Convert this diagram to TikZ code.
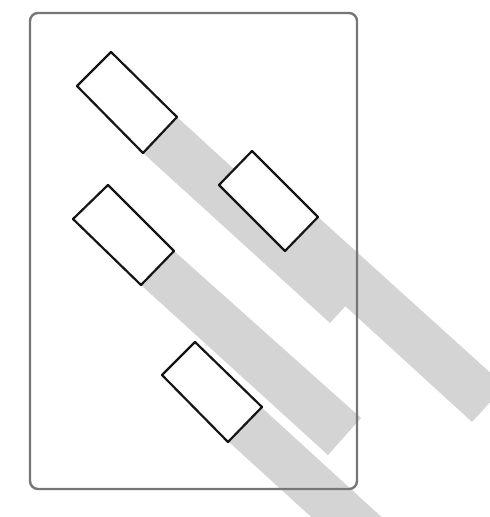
\documentclass[tikz,border=0pt]{standalone}
\usepackage{tikz}
\definecolor{bandgray}{HTML}{D4D4D4}
\definecolor{framegray}{HTML}{767676}
\definecolor{boxink}{HTML}{151515}

\begin{document}
\begin{tikzpicture}[
  x=1pt,y=-1pt,
  frame/.style={draw=framegray,line width=2.4pt,rounded corners=8pt},
  tagbox/.style={draw=boxink,line width=2.2pt,fill=white,line join=round},
  band/.style={fill=bandgray},
  bandedge/.style={fill=bandgray,draw=white,line width=1pt}
]
  \useasboundingbox (0,0) rectangle (490,517);

  % box corners: top, left, bottom, right
  \coordinate (t1) at (111,52);  \coordinate (l1) at (77,86);
  \coordinate (b1) at (143,153); \coordinate (r1) at (177,117);
  \coordinate (t2) at (252,151); \coordinate (l2) at (219,185);
  \coordinate (b2) at (285,251); \coordinate (r2) at (318,217);
  \coordinate (t3) at (108,185); \coordinate (l3) at (73,219);
  \coordinate (b3) at (141,285); \coordinate (r3) at (174,251);
  \coordinate (t4) at (195,342); \coordinate (l4) at (162,375);
  \coordinate (b4) at (228,442); \coordinate (r4) at (262,407);

  % far ends of the bands
  \coordinate (e1a) at (330,323); \coordinate (e1b) at (363,287);
  \coordinate (e2a) at (472,422); \coordinate (e2b) at (505,386);
  \coordinate (e3a) at (328,455); \coordinate (e3b) at (361,418);
  \coordinate (e4a) at (330,535); \coordinate (e4b) at (400,533);

  \begin{scope}
    \clip (0,0) rectangle (490,517);
    \fill[band] (r1) -- (b1) -- (e1a) -- (e1b) -- cycle;
    \fill[band] (r2) -- (b2) -- (e2a) -- (e2b) -- cycle;
    \fill[band] (r3) -- (b3) -- (e3a) -- (e3b) -- cycle;
    \filldraw[bandedge] (r4) -- (b4) -- (e4a) -- (e4b) -- cycle;
  \end{scope}

  \draw[frame] (30,13) rectangle (357,489);

  \foreach \i in {1,2,3,4}
    \draw[tagbox] (t\i) -- (r\i) -- (b\i) -- (l\i) -- cycle;
\end{tikzpicture}
\end{document}
